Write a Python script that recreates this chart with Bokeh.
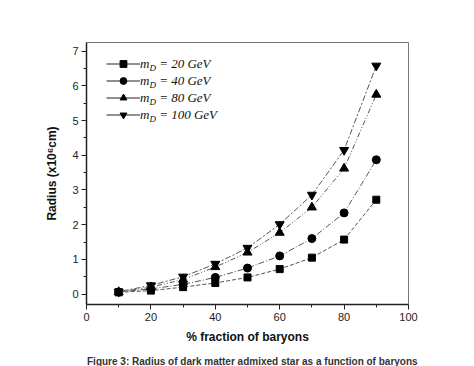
from bokeh.plotting import figure
from bokeh.models import (Legend, LegendItem, Label, FixedTicker, ColumnDataSource,
                          Range1d, Div)
from bokeh.layouts import column
from bokeh.embed import file_html
from bokeh.resources import INLINE

fraction = [10, 20, 30, 40, 50, 60, 70, 80, 90]
r_20 = [0.05, 0.10, 0.20, 0.32, 0.48, 0.72, 1.05, 1.57, 2.72]
r_40 = [0.06, 0.15, 0.28, 0.48, 0.75, 1.10, 1.60, 2.34, 3.87]
r_80 = [0.06, 0.20, 0.42, 0.78, 1.20, 1.77, 2.50, 3.62, 5.75]
r_100 = [0.07, 0.25, 0.50, 0.87, 1.33, 2.01, 2.86, 4.15, 6.58]
labels = ["m\u00a0\u00a0\u00a0= 20 GeV", "m\u00a0\u00a0\u00a0= 40 GeV",
          "m\u00a0\u00a0\u00a0= 80 GeV", "m\u00a0\u00a0\u00a0= 100 GeV"]
x_ticks = [0, 20, 40, 60, 80, 100]
y_ticks = [0, 1, 2, 3, 4, 5, 6, 7]
caption = "Figure 3: Radius of dark matter admixed star as a function of baryons"

p = figure(width=458, height=348, x_range=(0, 100), y_range=(-0.3, 7.25),
           output_backend="svg", toolbar_location=None,
           min_border_left=86, min_border_right=50, min_border_top=42, min_border_bottom=44)
p.extra_y_ranges = {"hidden": Range1d(1000, 1001)}
p.xgrid.visible = False
p.ygrid.visible = False
p.outline_line_color = "#777777"
p.outline_line_width = 1

for ax in (p.xaxis[0], p.yaxis[0]):
    ax.axis_line_color = "#222222"
    ax.axis_line_width = 1.5
    ax.major_tick_line_color = "#222222"
    ax.minor_tick_line_color = "#222222"
    ax.major_tick_out = 5
    ax.major_tick_in = 0
    ax.minor_tick_out = 3
    ax.minor_tick_in = 0
    ax.major_label_text_font = "Liberation Sans"
    ax.major_label_text_font_size = "11px"
    ax.major_label_text_color = "#222222"
    ax.axis_label_text_font = "Liberation Sans"
    ax.axis_label_text_font_style = "bold"
    ax.axis_label_text_font_size = "12px"
    ax.axis_label_text_color = "#111111"

p.xaxis.ticker = FixedTicker(ticks=x_ticks, minor_ticks=[10, 30, 50, 70, 90])
p.yaxis.ticker = FixedTicker(ticks=y_ticks, minor_ticks=[0.5, 1.5, 2.5, 3.5, 4.5, 5.5, 6.5])
p.xaxis.axis_label = "% fraction of baryons"
p.yaxis.axis_label = "Radius (x10\u2076cm)"
p.xaxis.major_label_standoff = 3
p.xaxis.axis_label_standoff = 6
p.yaxis.major_label_standoff = 3
p.yaxis.axis_label_standoff = 10

series = [r_20, r_40, r_80, r_100]
dashes = ["4 2", "6 2 1 2", "5 2 1 2 1 2", "2 2 6 2"]
markers = ["square", "circle", "triangle", "inverted_triangle"]
sizes = [7, 8, 9, 9]
items = []
for vals, dash, mk, sz, lab in zip(series, dashes, markers, sizes, labels):
    src = ColumnDataSource(dict(x=fraction, y=vals))
    p.line("x", "y", source=src, line_color="#555555", line_width=1, line_dash=dash)
    sc = p.scatter("x", "y", source=src, marker=mk, size=sz, fill_color="black", line_color="black")
    # solid legend line kept outside the visible range
    lp = p.line("x", "y", source=src, line_color="#222222", line_width=1, y_range_name="hidden")
    items.append(LegendItem(label=lab, renderers=[lp, sc]))

legend = Legend(items=items, location=(20, 181), padding=0, margin=0, spacing=0,
                glyph_width=34, glyph_height=17, label_height=17, label_standoff=0,
                border_line_color=None, background_fill_alpha=0,
                label_text_font="Liberation Serif", label_text_font_style="italic",
                label_text_font_size="13px", label_text_color="#111111")
p.add_layout(legend)

for i in range(4):
    p.add_layout(Label(x=63, y=232 - 17 * i,
                       x_units="screen", y_units="screen", text="D",
                       text_font="Liberation Serif", text_font_style="italic",
                       text_font_size="9px", text_color="#111111"))

cap = Div(text='<div style="padding-left:82px;white-space:nowrap;line-height:10px;'
               'font-family:\'Liberation Sans\';font-weight:bold;font-size:10px;color:#333">'
               + caption + '</div>',
          width=458, height=2, styles={"overflow": "visible"})

layout = column(p, cap, spacing=0)
open("out.html", "w").write(file_html(layout, INLINE))
